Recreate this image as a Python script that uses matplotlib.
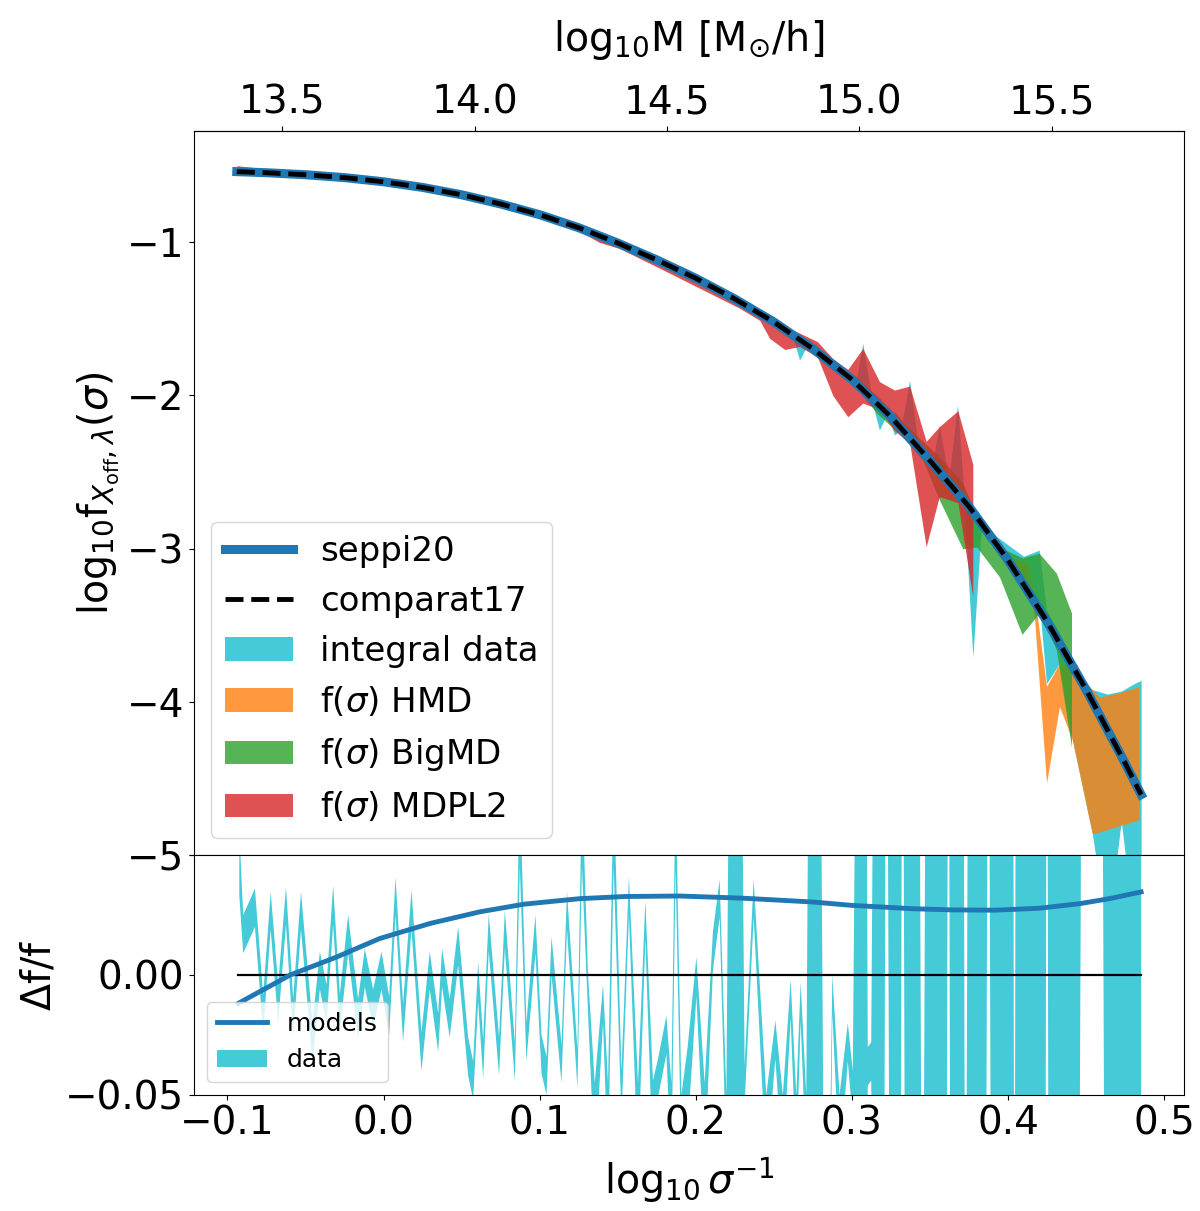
import numpy as np
import matplotlib
matplotlib.use("Agg")
import matplotlib.pyplot as plt

# ---------------- data ----------------
# model curves (log10 sigma^-1 vs log10 f)
model_x = [-0.094, -0.075, -0.05, -0.025, 0.0, 0.025, 0.05, 0.075, 0.1, 0.125, 0.15,
           0.175, 0.2, 0.225, 0.25, 0.275, 0.3, 0.325, 0.35, 0.375, 0.4, 0.425,
           0.45, 0.475, 0.4853]
seppi20_y = [-0.539, -0.546, -0.559, -0.578, -0.605, -0.642, -0.69, -0.75, -0.82,
             -0.905, -1.005, -1.115, -1.235, -1.37, -1.52, -1.695, -1.895, -2.14, -2.425,
             -2.725, -3.075, -3.475, -3.92, -4.40, -4.606]
comparat17_y = [-0.539, -0.546, -0.559, -0.578, -0.605, -0.642, -0.69, -0.75, -0.82,
                -0.905, -1.005, -1.115, -1.235, -1.37, -1.52, -1.695, -1.895, -2.14, -2.425,
                -2.725, -3.075, -3.475, -3.92, -4.40, -4.606]

# integral data band
cyan_x = [-0.094, -0.05, 0.0, 0.05, 0.1, 0.15, 0.2, 0.2409, 0.2455, 0.25, 0.262, 0.2665,
          0.271, 0.297, 0.303, 0.307, 0.312, 0.3177, 0.3225, 0.3273, 0.332, 0.337, 0.342,
          0.3476, 0.352, 0.3561, 0.362, 0.3677, 0.372, 0.3775, 0.383, 0.39, 0.41, 0.42,
          0.4247, 0.433, 0.4413, 0.454, 0.4637, 0.4726, 0.481, 0.4853]
cyan_lo = [-0.545, -0.566, -0.612, -0.70, -0.828, -1.012, -1.243, -1.475, -1.51, -1.535,
           -1.61, -1.77, -1.68, -1.88, -1.92, -1.96, -2.01, -2.226, -2.12, -2.258, -2.22,
           -2.27, -2.33, -2.41, -2.46, -2.51, -2.59, -2.66, -2.71, -3.71, -2.85, -2.95,
           -3.20, -3.35, -3.88, -3.75, -4.25, -4.86, -5.5, -4.78, -5.5, -5.5]
cyan_hi = [-0.530, -0.552, -0.598, -0.68, -0.812, -0.998, -1.227, -1.445, -1.47, -1.505,
           -1.58, -1.61, -1.64, -1.84, -1.89, -1.66, -1.97, -2.02, -2.08, -2.12, -2.18,
           -1.90, -2.29, -2.37, -2.42, -2.193, -2.55, -2.06, -2.67, -2.74, -2.81, -2.90,
           -3.05, -3.01, -3.40, -3.55, -3.78, -3.92, -3.95, -3.93, -3.88, -3.86]

# f(sigma) HMD
hmd_x = [0.3273, 0.3388, 0.356, 0.3818, 0.3946, 0.403, 0.4125, 0.417, 0.4247, 0.433,
         0.4413, 0.454, 0.4586, 0.4714, 0.4842]
hmd_lo = [-2.17, -2.32, -2.52, -2.84, -3.00, -3.17, -3.20, -3.45, -4.53, -4.03, -4.25,
          -4.86, -4.85, -4.81, -4.77]
hmd_hi = [-2.10, -2.25, -2.46, -2.79, -2.95, -3.07, -3.09, -3.30, -3.90, -3.75, -3.79,
          -3.92, -3.97, -3.94, -3.90]

# f(sigma) BigMD
bigmd_x = [0.2857, 0.303, 0.3158, 0.3305, 0.3454, 0.356, 0.371, 0.380, 0.3946, 0.409,
           0.420, 0.431, 0.4407]
bigmd_lo = [-1.80, -1.95, -2.115, -2.25, -2.42, -2.68, -3.00, -2.99, -3.185, -3.56,
            -3.42, -3.66, -4.295]
bigmd_hi = [-1.76, -1.88, -2.00, -2.15, -2.30, -2.40, -2.57, -2.79, -2.99, -3.06,
            -3.03, -3.16, -3.42]

# f(sigma) MDPL2
mdpl2_x = [-0.094, -0.054, -0.002, 0.042, 0.087, 0.126, 0.138, 0.151, 0.177, 0.2025,
           0.228, 0.241, 0.2473, 0.257, 0.2665, 0.278, 0.2878, 0.2974, 0.307, 0.3177,
           0.3273, 0.337, 0.3476, 0.356, 0.3679, 0.3775]
mdpl2_lo = [-0.56, -0.575, -0.62, -0.69, -0.80, -0.93, -1.00, -1.04, -1.17, -1.30, -1.43,
            -1.51, -1.627, -1.70, -1.68, -1.75, -2.00, -2.139, -2.05, -2.09, -2.23, -2.31,
            -2.988, -2.66, -2.70, -3.314]
mdpl2_hi = [-0.50, -0.545, -0.59, -0.665, -0.775, -0.88, -0.93, -0.99, -1.10, -1.22,
            -1.36, -1.44, -1.47, -1.55, -1.593, -1.649, -1.76, -1.83, -1.693, -1.910,
            -1.965, -1.939, -2.30, -2.204, -2.10, -2.45]

# residuals: models
resmod_x = [-0.093, -0.0598, -0.03, -0.0024, 0.03, 0.0616, 0.09, 0.1257, 0.155, 0.1897,
            0.23, 0.275, 0.30, 0.339, 0.365, 0.392, 0.42, 0.4458, 0.465, 0.4853]
resmod_y = [-0.0118, 0.0, 0.0075, 0.0152, 0.0215, 0.0263, 0.0295, 0.0318, 0.0327, 0.0329,
            0.0320, 0.0304, 0.0290, 0.0276, 0.0271, 0.0270, 0.0278, 0.0297, 0.0318, 0.0346]

# residuals: data band
res_x = [-0.0924, -0.0899, -0.0824, -0.0771, -0.0723, -0.0675, -0.0625, -0.0579, -0.0529, -0.0455,
         -0.0408, -0.0365, -0.0323, -0.0280, -0.0227, -0.0163, -0.0120, -0.0067, -0.0013, 0.0036,
         0.0077, 0.0125, 0.0179, 0.0243, 0.0296, 0.0350, 0.0375, 0.0424, 0.0478, 0.0542,
         0.0574, 0.0606, 0.0638, 0.0674, 0.0740, 0.0777, 0.0841, 0.0873, 0.0915, 0.0973,
         0.1012, 0.1044, 0.1076, 0.1140, 0.1175, 0.1242, 0.1271, 0.1310, 0.1353, 0.1406,
         0.1438, 0.1474, 0.1524, 0.1572, 0.1630, 0.1677, 0.1726, 0.1758, 0.1812, 0.1844,
         0.1871, 0.1908, 0.1948, 0.2004, 0.2057, 0.2110, 0.2153, 0.2196, 0.2236, 0.2270,
         0.2313, 0.2371, 0.2452, 0.2510, 0.2558, 0.2608, 0.2644, 0.2672, 0.2708, 0.2742,
         0.2780, 0.2832, 0.2875, 0.2921, 0.2974, 0.3006, 0.3049, 0.3081, 0.3102, 0.3124,
         0.3158, 0.3197, 0.3222, 0.3254, 0.3305, 0.3325, 0.3350, 0.3421, 0.3453, 0.3485,
         0.3600, 0.3619, 0.3638, 0.3709, 0.3728, 0.3754, 0.3850, 0.3875, 0.3901, 0.4029,
         0.4042, 0.4054, 0.4234, 0.4250, 0.4266, 0.4445, 0.4477, 0.4599, 0.4631, 0.4853]
res_lo = [0.033, 0.009, 0.020, -0.024, 0.019, -0.020, 0.021, -0.026, 0.019, -0.036,
          -0.006, -0.020, 0.021, -0.024, 0.009, -0.026, -0.005, -0.022, -0.006, -0.025,
          0.025, -0.028, 0.019, -0.040, -0.006, -0.032, -0.005, -0.026, 0.004, -0.042,
          -0.052, -0.011, -0.043, 0.010, -0.042, 0.011, -0.044, 0.045, -0.036, 0.009,
          -0.041, -0.050, 0.000, -0.045, 0.019, -0.047, 0.045, -0.016, -0.08, -0.020,
          -0.08, 0.045, -0.06, 0.025, -0.08, 0.015, -0.08, -0.051, -0.033, -0.08,
          0.045, -0.08, -0.065, -0.009, -0.08, 0.002, 0.024, -0.08, -0.3, -0.3,
          -0.054, 0.024, -0.08, -0.035, -0.08, -0.018, -0.08, -0.019, -0.08, -0.3,
          -0.3, -0.3, -0.016, -0.08, -0.036, -0.06, -0.3, -0.3, -0.046, -0.044,
          -0.3, -0.3, 0.2, -0.3, -0.3, 0.2, -0.3, -0.3, -0.3, -0.3,
          -0.3, 0.2, -0.3, -0.3, -0.3, -0.3, -0.3, 0.2, -0.3, -0.3,
          -0.3, -0.3, -0.3, 0.2, -0.3, -0.3, 0.2, 0.2, -0.3, -0.3]
res_hi = [0.060, 0.0249, 0.036, -0.0083, 0.0346, -0.004, 0.0366, -0.0097, 0.0346, -0.020,
          0.0097, -0.004, 0.0373, -0.008, 0.0249, -0.010, 0.011, -0.006, 0.0097, -0.009,
          0.0408, -0.012, 0.0353, -0.024, 0.0097, -0.016, 0.011, -0.010, 0.020, -0.026,
          -0.036, 0.0055, -0.027, 0.0256, -0.026, 0.027, -0.028, 0.08, -0.020, 0.025,
          -0.025, -0.034, 0.016, -0.029, 0.035, -0.031, 0.08, 0.0, -0.045, -0.004,
          -0.045, 0.08, -0.04, 0.041, -0.045, 0.031, -0.044, -0.035, -0.017, -0.045,
          0.08, -0.05, -0.03, 0.0075, -0.045, 0.018, 0.0398, -0.05, 0.3, 0.3,
          -0.038, 0.0398, -0.05, -0.019, -0.05, -0.002, -0.05, -0.003, -0.05, 0.3,
          0.3, -0.2, 0.0, -0.05, -0.020, -0.04, 0.3, 0.3, -0.03, -0.028,
          0.3, 0.3, 0.3, 0.3, 0.3, 0.3, 0.3, 0.3, -0.2, 0.3,
          0.3, 0.3, 0.3, 0.3, -0.2, 0.3, 0.3, 0.3, 0.3, 0.3,
          -0.2, 0.3, 0.3, 0.3, 0.3, 0.3, 0.3, 0.3, 0.3, 0.3]

# top-axis mass ticks
mass_ticks = [13.5, 14.0, 14.5, 15.0, 15.5]

# ---------------- plot ----------------
plt.rcParams['font.family'] = ['DejaVu Sans']
TFS = 28     # tick labels
LFS = 28.5   # axis labels
LEG = 24.5   # main legend

fig = plt.figure(figsize=(12, 12.11), dpi=100)
ax1 = fig.add_axes([0.1617, 0.294, 0.825, 0.5979])
ax2 = fig.add_axes([0.1617, 0.0958, 0.825, 0.1982])

a = 0.8
ax1.fill_between(cyan_x, cyan_lo, cyan_hi, color='tab:cyan', alpha=a, lw=0, label='integral data')
ax1.fill_between(hmd_x, hmd_lo, hmd_hi, color='tab:orange', alpha=a, lw=0, label=r'f($\sigma$) HMD')
ax1.fill_between(bigmd_x, bigmd_lo, bigmd_hi, color='tab:green', alpha=a, lw=0, label=r'f($\sigma$) BigMD')
ax1.fill_between(mdpl2_x, mdpl2_lo, mdpl2_hi, color='tab:red', alpha=a, lw=0, label=r'f($\sigma$) MDPL2')
ax1.plot(model_x, seppi20_y, color='tab:blue', lw=6.5, label='seppi20')
ax1.plot(model_x, comparat17_y, color='black', lw=3.5, ls='--', label='comparat17')

xlim = (-0.1214, 0.5128)
ax1.set_xlim(*xlim)
ax1.set_ylim(-5, -0.273)
ax1.set_yticks([-5, -4, -3, -2, -1])
ax1.tick_params(axis='x', bottom=False, labelbottom=False)
ax1.tick_params(axis='y', labelsize=TFS)
ax1.set_ylabel(r'$\mathrm{log_{10}f}_{X_{\mathrm{off}},\lambda}(\sigma)$', fontsize=LFS)

handles, labels = ax1.get_legend_handles_labels()
order = ['seppi20', 'comparat17', 'integral data', r'f($\sigma$) HMD',
         r'f($\sigma$) BigMD', r'f($\sigma$) MDPL2']
hmap = dict(zip(labels, handles))
ax1.legend([hmap[k] for k in order], order, loc='lower left', fontsize=LEG)

def to_mass(x):
    return 13.5 + 4.058 * (np.asarray(x) + 0.0649)

def from_mass(m):
    return (np.asarray(m) - 13.5) / 4.058 - 0.0649

sec = ax1.secondary_xaxis('top', functions=(to_mass, from_mass))
sec.set_xticks(mass_ticks)
sec.set_xticklabels([f'{m:.1f}' for m in mass_ticks])
sec.tick_params(labelsize=TFS)
sec.set_xlabel(r'$\mathrm{log_{10}M\ [M_{\odot}/h]}$', fontsize=LFS, labelpad=23)

# lower panel
ax2.fill_between(res_x, res_lo, res_hi, color='tab:cyan', alpha=a, lw=0, label='data')
ax2.plot([resmod_x[0], resmod_x[-1]], [0, 0], color='black', lw=1.6)
ax2.plot(resmod_x, resmod_y, color='tab:blue', lw=3.5, label='models')
ax2.set_xlim(*xlim)
ax2.set_ylim(-0.05, 0.05)
ax2.set_yticks([-0.05, 0.0, 0.05])
ax2.set_yticklabels(['\u22120.05', '0.00', ''])
ax2.set_xticks([-0.1, 0.0, 0.1, 0.2, 0.3, 0.4, 0.5])
ax2.tick_params(labelsize=TFS)
ax2.set_xlabel(r'$\log_{10}\sigma^{-1}$', fontsize=LFS, labelpad=9)
ax2.set_ylabel(r'$\Delta$f/f', fontsize=LFS)
h2, lb2 = ax2.get_legend_handles_labels()
hm2 = dict(zip(lb2, h2))
ax2.legend([hm2['models'], hm2['data']], ['models', 'data'], loc='lower left', fontsize=18)

fig.savefig('out.png', dpi=100)
